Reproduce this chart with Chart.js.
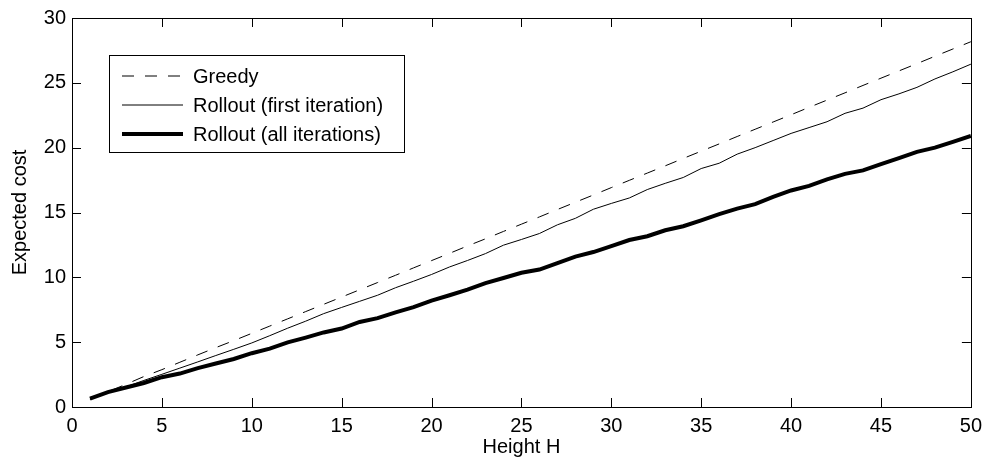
<!DOCTYPE html>
<html>
<head>
<meta charset="utf-8">
<script src="https://cdn.jsdelivr.net/npm/chart.js@4"></script>
<style>
  html, body { margin: 0; padding: 0; background: #fff; }
  #wrap { width: 989px; height: 461px; }
</style>
</head>
<body>
<div id="wrap"><canvas id="costChart" width="989" height="461"></canvas></div>
<script>
// Expected cost vs. height H
const heights = [1, 2, 3, 4, 5, 6, 7, 8, 9, 10, 11, 12, 13, 14, 15, 16, 17, 18, 19, 20,
  21, 22, 23, 24, 25, 26, 27, 28, 29, 30, 31, 32, 33, 34, 35, 36, 37, 38, 39, 40,
  41, 42, 43, 44, 45, 46, 47, 48, 49, 50];

const greedy = [0.60, 1.18, 1.75, 2.35, 2.88, 3.45, 4.02, 4.58, 5.12, 5.68,
  6.24, 6.80, 7.36, 7.92, 8.48, 9.04, 9.60, 10.16, 10.73, 11.29,
  11.85, 12.42, 12.97, 13.54, 14.10, 14.66, 15.23, 15.79, 16.35, 16.92,
  17.48, 18.04, 18.60, 19.17, 19.73, 20.29, 20.86, 21.42, 21.98, 22.54,
  23.11, 23.67, 24.23, 24.80, 25.36, 25.92, 26.48, 27.05, 27.61, 28.17];

const rolloutFirst = [0.60, 1.10, 1.55, 2.05, 2.52, 3.00, 3.48, 3.97, 4.45, 4.94,
  5.50, 6.08, 6.62, 7.20, 7.68, 8.15, 8.62, 9.20, 9.70, 10.22,
  10.80, 11.30, 11.83, 12.48, 12.92, 13.38, 14.05, 14.55, 15.25, 15.70,
  16.12, 16.77, 17.25, 17.70, 18.39, 18.80, 19.50, 20.00, 20.55, 21.10,
  21.55, 22.00, 22.65, 23.05, 23.70, 24.15, 24.65, 25.30, 25.85, 26.44];

const rolloutAll = [0.65, 1.15, 1.50, 1.85, 2.30, 2.58, 3.00, 3.35, 3.70, 4.15,
  4.50, 4.98, 5.35, 5.75, 6.05, 6.56, 6.85, 7.30, 7.70, 8.20,
  8.62, 9.05, 9.55, 9.95, 10.35, 10.60, 11.10, 11.60, 11.95, 12.40,
  12.88, 13.17, 13.63, 13.94, 14.40, 14.88, 15.30, 15.65, 16.20, 16.70,
  17.05, 17.55, 17.98, 18.25, 18.73, 19.20, 19.68, 20.00, 20.45, 20.90];

const seriesNames = ['Greedy', 'Rollout (first iteration)', 'Rollout (all iterations)'];
const xTitle = 'Height H';
const yTitle = 'Expected cost';

const FONT = '"Liberation Sans", Arial, Helvetica, sans-serif';
const FONT_SIZE = 20;
const TICK_LEN = 9;

const pts = vals => vals.map((v, i) => ({ x: heights[i], y: v }));

// box frame + inward ticks on all four sides
const framePlugin = {
  id: 'frame',
  afterDatasetsDraw(chart) {
    const { ctx, chartArea: a, scales } = chart;
    ctx.save();
    ctx.strokeStyle = '#000';
    ctx.lineWidth = 1;
    ctx.beginPath();
    scales.x.ticks.forEach(t => {
      const px = Math.round(scales.x.getPixelForValue(t.value)) + 0.5;
      ctx.moveTo(px, a.bottom); ctx.lineTo(px, a.bottom - TICK_LEN);
      ctx.moveTo(px, a.top); ctx.lineTo(px, a.top + TICK_LEN);
    });
    scales.y.ticks.forEach(t => {
      const py = Math.round(scales.y.getPixelForValue(t.value)) + 0.5;
      ctx.moveTo(a.left, py); ctx.lineTo(a.left + TICK_LEN, py);
      ctx.moveTo(a.right, py); ctx.lineTo(a.right - TICK_LEN, py);
    });
    ctx.stroke();
    ctx.strokeRect(Math.round(a.left) + 0.5, Math.round(a.top) + 0.5,
      Math.round(a.right - a.left), Math.round(a.bottom - a.top));
    ctx.restore();
  }
};

// legend box in the upper-left of the plot
const legendBoxPlugin = {
  id: 'legendBox',
  afterDraw(chart) {
    const { ctx, chartArea: a } = chart;
    const x0 = a.left + 37, y0 = a.top + 37, w = 295, h = 97;
    ctx.save();
    ctx.fillStyle = '#fff';
    ctx.fillRect(x0, y0, w, h);
    ctx.strokeStyle = '#000';
    ctx.lineWidth = 1;
    ctx.strokeRect(Math.round(x0) + 0.5, Math.round(y0) + 0.5, w, h);
    ctx.font = FONT_SIZE + 'px ' + FONT;
    ctx.textBaseline = 'middle';
    chart.data.datasets.forEach((ds, i) => {
      const cy = y0 + 21 + i * 29;
      ctx.beginPath();
      ctx.setLineDash(ds.borderDash || []);
      ctx.lineWidth = ds.borderWidth;
      ctx.strokeStyle = ds.borderColor;
      ctx.moveTo(x0 + 13, cy);
      ctx.lineTo(x0 + 74, cy);
      ctx.stroke();
      ctx.setLineDash([]);
      ctx.fillStyle = '#000';
      ctx.fillText(ds.label, x0 + 84, cy + 1);
    });
    ctx.restore();
  }
};

new Chart(document.getElementById('costChart'), {
  type: 'line',
  data: {
    datasets: [
      { label: seriesNames[0], data: pts(greedy), borderColor: '#000', borderWidth: 1, borderDash: [12, 11] },
      { label: seriesNames[1], data: pts(rolloutFirst), borderColor: '#000', borderWidth: 1 },
      { label: seriesNames[2], data: pts(rolloutAll), borderColor: '#000', borderWidth: 4 }
    ]
  },
  options: {
    responsive: false,
    animation: false,
    devicePixelRatio: 1,
    layout: { padding: { left: 0, right: 15, top: 18, bottom: 0 } },
    elements: { point: { radius: 0 }, line: { tension: 0, borderCapStyle: 'butt' } },
    plugins: { legend: { display: false }, tooltip: { enabled: false } },
    scales: {
      x: {
        type: 'linear', min: 0, max: 50,
        afterFit: s => { s.height = 54; },
        grid: { display: true, drawOnChartArea: false, drawTicks: false, color: 'rgba(0,0,0,0)' },
        border: { display: false },
        ticks: { stepSize: 5, padding: 7, color: '#000', font: { family: FONT, size: FONT_SIZE } },
        title: { display: true, text: xTitle, color: '#000', padding: { top: 0, bottom: 2 }, font: { family: FONT, size: FONT_SIZE } }
      },
      y: {
        type: 'linear', min: 0, max: 30,
        afterFit: s => { s.width = 72; },
        grid: { display: true, drawOnChartArea: false, drawTicks: false, color: 'rgba(0,0,0,0)' },
        border: { display: false },
        ticks: { stepSize: 5, padding: 6, color: '#000', font: { family: FONT, size: FONT_SIZE } },
        title: { display: true, text: yTitle, color: '#000', padding: { top: 8, bottom: 0 }, font: { family: FONT, size: FONT_SIZE } }
      }
    }
  },
  plugins: [framePlugin, legendBoxPlugin]
});
</script>
</body>
</html>
